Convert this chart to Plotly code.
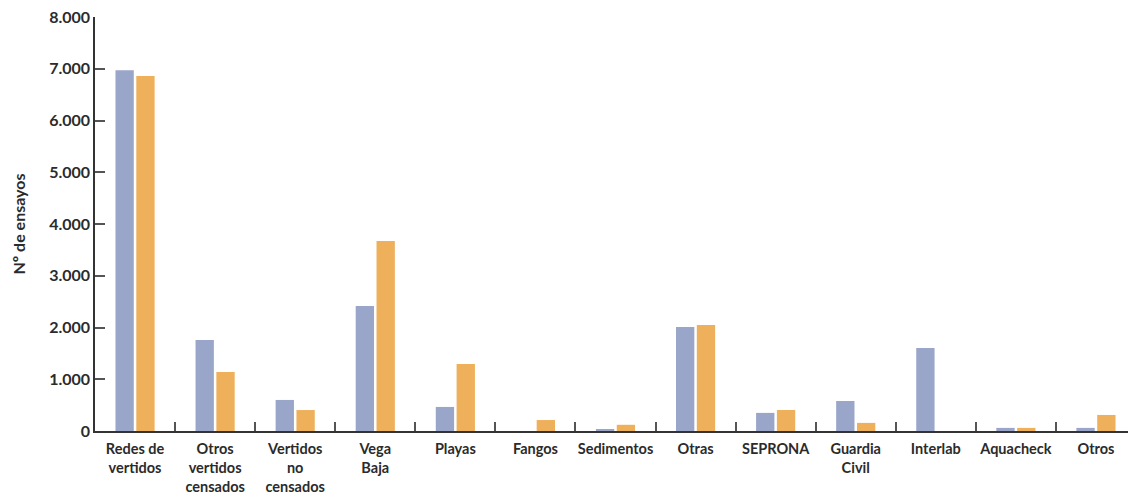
import plotly.graph_objects as go

categories = ["Redes de<br>vertidos", "Otros<br>vertidos<br>censados", "Vertidos<br>no<br>censados",
              "Vega<br>Baja", "Playas", "Fangos", "Sedimentos", "Otras", "SEPRONA",
              "Guardia<br>Civil", "Interlab", "Aquacheck", "Otros"]
serie_a = [6970, 1760, 600, 2415, 465, 0, 25, 2010, 350, 580, 1605, 60, 60]
serie_b = [6860, 1140, 405, 3670, 1295, 212, 120, 2048, 406, 157, 0, 60, 310]
y_ticks = [0, 1000, 2000, 3000, 4000, 5000, 6000, 7000, 8000]

font_family = "Lato"
fig = go.Figure()
fig.add_bar(x=categories, y=serie_a, marker=dict(color="#9AA6C9", line=dict(width=0)), name="A")
fig.add_bar(x=categories, y=serie_b, marker=dict(color="#EEB05B", line=dict(width=0)), name="B")

fig.update_layout(
    width=1128, height=486,
    margin=dict(l=87, r=0, t=9, b=63),
    paper_bgcolor="white", plot_bgcolor="white",
    barmode="group", bargap=0.48, bargroupgap=0.12,
    showlegend=False,
    separators=",.",
    font=dict(family=font_family, size=14, color="#2b2b2b"),
)
fig.update_xaxes(
    type="category", showline=True, linecolor="#333", linewidth=1.5,
    ticks="inside", tickson="boundaries", ticklen=9, tickcolor="#555", tickwidth=1.5,
    tickangle=0, automargin=False, ticklabelstandoff=4,
    tickfont=dict(family=font_family, size=14.5, color="#2b2b2b", weight="bold"),
    showgrid=False, zeroline=False,
)
fig.update_yaxes(
    range=[0, 8000], tickvals=y_ticks, tickformat=",.0f",
    showline=True, linecolor="#333", linewidth=1.5,
    ticks="inside", ticklen=10, tickcolor="#555", tickwidth=1.5, automargin=False,
    ticklabeloverflow="allow",
    tickfont=dict(family=font_family, size=16, color="#2b2b2b", weight="bold"),
    showgrid=False, zeroline=False,
    title=dict(text="Nº de ensayos", font=dict(family=font_family, size=16, color="#2b2b2b", weight="bold"), standoff=20),
)
fig.write_html("out.html")
